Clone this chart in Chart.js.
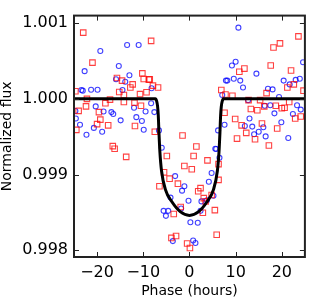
<!DOCTYPE html>
<html>
<head>
<meta charset="utf-8">
<script src="https://cdn.jsdelivr.net/npm/chart.js@4/dist/chart.umd.min.js"></script>
<style>
    html, body { margin: 0; padding: 0; background: #fff; }
    #wrap { width: 310px; height: 300px; }
</style>
</head>
<body>
<div id="wrap"><canvas id="lc" width="310" height="300"></canvas></div>
<script>
/* ============================================================
   Transit light curve — two phase-folded sets + model
   ============================================================ */
(function () {
    'use strict';

    // red squares (phase in hours, normalized flux)
    var redX = [-23.0, -21.0, -15.7, -14.6, -10.2, -9.9, -8.8, -12.3, -12.8, -15.2, -14.2, -10.7, -9.3, -8.3, -24.7,
        -22.2, -24.0, -22.4, -19.6, -18.2, -17.2, -20.0, -17.6, -19.3, -11.8, -10.5, -11.9, -14.2, -16.6, -16.2,
        -13.7, -8.6, -7.9, -6.8, 6.9, 7.8, 7.6, -7.5, -1.5, 23.6, 18.2, 19.6, 11.9, 10.8, 17.6,
        22.0, 16.7, 21.2, 22.6, 24.7, 9.3, 21.6, 12.8, 15.3, 13.3, 14.7, 16.2, 18.7, 20.0, 20.6,
        22.9, 24.1, 9.9, 11.3, 15.7, 12.3, 19.0, 10.3, 14.2, 17.2, 1.5, 0.9, -4.9, 3.9, -1.1,
        0.5, 6.3, -5.5, -4.3, -6.5, -2.5, 2.4, 1.9, 4.8, 6.3, -1.9, -3.4, 2.9, 5.5, 3.1,
        3.5, 5.9, -3.9, -2.9, -0.5, 0.1, -24.5];
    var redY = [1.000875, 1.000479, 1.000275, 1.000241, 1.000337, 1.000262, 1.000254, 1.000191, 1.000150, 1.000091, 1.000050, 1.000062, 1.000087, 1.000766, 1.000100,
        1.000000, 0.999841, 0.999900, 0.999825, 0.999941, 0.999990, 0.999666, 0.999650, 0.999725, 0.999641, 0.999908, 0.999950, 0.999958, 0.999375, 0.999341,
        0.999233, 1.000258, 1.000175, 1.000150, 1.000116, 1.000058, 0.999816, 0.999566, 0.999516, 1.000825, 1.000679, 1.000733, 1.000400, 1.000358, 1.000441,
        1.000375, 1.000075, 1.000150, 1.000191, 1.000108, 1.000040, 0.999958, 0.999983, 0.999983, 0.999866, 0.999850, 0.999900, 0.999908, 0.999875, 0.999883,
        0.999741, 0.999766, 0.999733, 0.999650, 0.999675, 0.999550, 0.999608, 0.999475, 0.999466, 0.999383, 0.999370, 0.999245, 0.999245, 0.999187, 0.999112,
        0.999070, 0.999137, 0.999029, 0.998945, 0.998845, 0.998879, 0.998820, 0.998779, 0.998729, 0.998929, 0.998570, 0.998479, 0.998495, 0.998529, 0.998688,
        0.998645, 0.998204, 0.998162, 0.998187, 0.998088, 0.998029, 0.999590];

    // blue circles
    var blueX = [-13.5, -11.0, -19.3, -22.7, -15.3, -13.0, -15.9, -13.9, -23.1, -21.3, -19.9, -14.5, -8.2, -24.7, -23.7,
        -22.3, -20.7, -18.9, -20.3, -18.6, -16.9, -16.5, -14.9, -11.5, -10.3, -9.9, -12.0, -9.5, 7.9, 7.1,
        -8.3, -7.6, -6.6, 7.6, 6.2, 10.6, 10.0, 9.2, 14.5, 8.2, 9.6, 11.0, 11.6, 17.0, 18.0,
        20.4, 21.7, 23.0, 23.9, 24.6, 19.4, 17.5, 23.3, 24.1, 22.4, 18.4, 13.0, 12.0, 13.6, 16.0,
        14.0, 15.0, 19.9, 21.4, 5.6, 12.7, 16.3, 16.5, -6.0, 5.8, 6.5, -3.1, 4.8, 4.2, -1.1,
        -1.6, -4.1, -0.2, 2.6, 3.8, 5.2, -5.6, -4.6, -5.1, -1.8, 2.4, 0.2, 1.8, -3.6, 0.8,
        1.3, -24.6, -23.4];
    var blueY = [1.000712, 1.000712, 1.000633, 1.000366, 1.000433, 1.000312, 1.000258, 1.000225, 1.000108, 1.000120, 1.000120, 1.000116, 1.000140, 0.999840, 0.999658,
        0.999525, 0.999616, 0.999566, 0.999900, 0.999833, 0.999825, 0.999800, 0.999716, 0.999758, 0.999708, 0.999591, 0.999883, 0.999833, 1.000241, 1.000050,
        0.999941, 0.999825, 0.999583, 0.999658, 0.999583, 1.000941, 1.000491, 1.000441, 1.000333, 1.000241, 1.000266, 1.000241, 1.000150, 1.000133, 1.000125,
        1.000241, 1.000191, 1.000250, 1.000266, 1.000483, 1.000025, 0.999916, 0.999916, 0.999858, 0.999800, 0.999808, 0.999741, 0.999641, 0.999633, 0.999625,
        0.999533, 0.999566, 0.999691, 0.999483, 0.999341, 0.999983, 0.999908, 0.999504, 0.999354, 0.999337, 0.999220, 0.998979, 0.999020, 0.998904, 0.998845,
        0.998787, 0.998695, 0.998654, 0.998645, 0.998660, 0.998720, 0.998520, 0.998520, 0.998454, 0.998550, 0.998520, 0.998370, 0.998362, 0.998120, 0.998129,
        0.998095, 0.999740, 1.000116];

    // transit model
    var modelX = [-25, -7.4, -7.1, -6.9, -6.75, -6.6, -6.4, -6.05, -5.2, -3.8, -2.0, 0,
        2.0, 3.8, 5.2, 6.05, 6.4, 6.6, 6.75, 6.9, 7.1, 7.4, 25];
    var modelY = [1.0, 1.0, 0.99997, 0.99990, 0.99978, 0.99955, 0.99930, 0.99905, 0.99880, 0.99864, 0.99851, 0.99846,
        0.99851, 0.99864, 0.99880, 0.99905, 0.99930, 0.99955, 0.99978, 0.99990, 0.99997, 1.0, 1.0];

    var xTicks = [-20, -10, 0, 10, 20];
    var yTicks = [0.998, 0.999, 1.000, 1.001];
    var xRange = [-25, 25];
    var yRange = [0.99791, 1.0011];

    function pts(xs, ys) {
        return xs.map(function (x, i) { return { x: x, y: ys[i] }; });
    }

    // matplotlib-ish box with inward ticks on all four sides
    var frame = {
        id: 'frame',
        afterDraw: function (chart) {
            var a = chart.chartArea, ctx = chart.ctx;
            var xs = chart.scales.x, ys = chart.scales.y;
            var L = 5;
            ctx.save();
            ctx.strokeStyle = '#222';
            ctx.lineWidth = 1;
            ctx.beginPath();
            xs.ticks.forEach(function (t) {
                var p = Math.round(xs.getPixelForValue(t.value)) + 0.5;
                ctx.moveTo(p, a.bottom); ctx.lineTo(p, a.bottom - L);
                ctx.moveTo(p, a.top); ctx.lineTo(p, a.top + L);
            });
            ys.ticks.forEach(function (t) {
                var p = Math.round(ys.getPixelForValue(t.value)) + 0.5;
                ctx.moveTo(a.left, p); ctx.lineTo(a.left + L, p);
                ctx.moveTo(a.right, p); ctx.lineTo(a.right - L, p);
            });
            ctx.stroke();
            ctx.lineWidth = 2;
            ctx.strokeRect(a.left, a.top, a.right - a.left, a.bottom - a.top);
            ctx.restore();
        }
    };

    var font = 'DejaVu Sans';

    new Chart(document.getElementById('lc'), {
        type: 'scatter',
        data: {
            datasets: [
                {
                    label: 'model', data: pts(modelX, modelY), showLine: true, order: 0,
                    borderColor: '#000', borderWidth: 3, pointRadius: 0,
                    cubicInterpolationMode: 'monotone', fill: false
                },
                {
                    label: 'red', data: pts(redX, redY), order: 1,
                    pointStyle: 'rect', pointRadius: 3.9, borderWidth: 1.1,
                    borderColor: 'rgba(255,0,0,0.75)', backgroundColor: 'rgba(0,0,0,0)'
                },
                {
                    label: 'blue', data: pts(blueX, blueY), order: 2,
                    pointStyle: 'circle', pointRadius: 2.5, borderWidth: 1.1,
                    borderColor: 'rgba(0,0,255,0.75)', backgroundColor: 'rgba(0,0,0,0)'
                }
            ]
        },
        options: {
            responsive: false,
            animation: false,
            layout: { padding: { top: 1, right: 3, left: 0, bottom: 0 } },
            plugins: { legend: { display: false }, tooltip: { enabled: false } },
            scales: {
                x: {
                    type: 'linear', min: xRange[0], max: xRange[1],
                    grid: { display: false, drawTicks: false },
                    border: { display: false },
                    afterBuildTicks: function (s) { s.ticks = xTicks.map(function (v) { return { value: v }; }); },
                    afterFit: function (s) { s.height = 43; },
                    ticks: {
                        color: '#000', padding: 6, maxRotation: 0,
                        font: { family: font, size: 16 },
                        callback: function (v) { return v < 0 ? '\u2212' + Math.abs(v) : String(v); }
                    },
                    title: {
                        display: true, text: 'Phase (hours)', color: '#000',
                        font: { family: font, size: 14, lineHeight: 1 },
                        padding: { top: 0, bottom: 2 }
                    }
                },
                y: {
                    type: 'linear', min: yRange[0], max: yRange[1],
                    grid: { display: false, drawTicks: false },
                    border: { display: false },
                    afterBuildTicks: function (s) { s.ticks = yTicks.map(function (v) { return { value: v }; }); },
                    afterFit: function (s) { s.width = 74; },
                    ticks: {
                        color: '#000', padding: 6,
                        font: { family: font, size: 16 },
                        callback: function (v) { return Number(v).toFixed(3); }
                    },
                    title: {
                        display: true, text: 'Normalized flux', color: '#000',
                        font: { family: font, size: 14, lineHeight: 1 },
                        padding: { top: 0, bottom: 0 }
                    }
                }
            }
        },
        plugins: [frame]
    });
})();
</script>
</body>
</html>
